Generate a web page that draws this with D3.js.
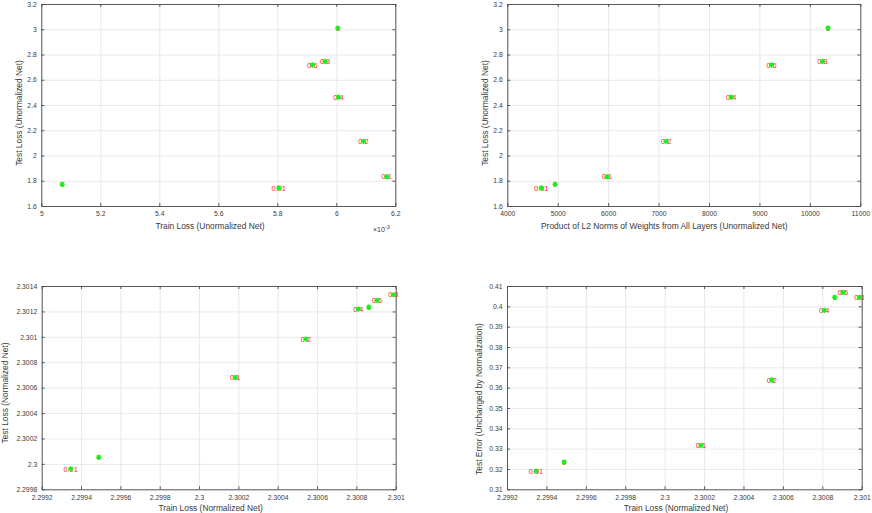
<!DOCTYPE html>
<html><head><meta charset="utf-8">
<script src="https://cdn.jsdelivr.net/npm/d3@7"></script>
<style>
body{margin:0;background:#fff;}
svg{display:block;font-family:"Liberation Sans",Arial,sans-serif;}
</style></head>
<body><svg id="c" width="872" height="513"></svg>
<script>
// regularization strengths (point labels)
const lambdas = ["0","0.01","0.1","0.2","0.4","0.6","0.8","1"];
// unnormalized net
const trainLossUnnorm = [5.071, 5.805, 6.171, 6.092, 6.007, 5.919, 5.962, 6.005]; // x1e-3
const testLossUnnorm  = [1.772, 1.743, 1.832, 2.113, 2.462, 2.718, 2.746, 3.010];
const l2NormProduct   = [4949, 4672, 5977, 7150, 8441, 9240, 10249, 10360];
// normalized net
const trainLossNorm = [2.29949, 2.299347, 2.300184, 2.300544, 2.30081, 2.300905, 2.300988, 2.300863];
const testLossNorm  = [2.300052, 2.29996, 2.300681, 2.300983, 2.301219, 2.301287, 2.301331, 2.301234];
const testError     = [0.3234, 0.3190, 0.3316, 0.3638, 0.3980, 0.4069, 0.4044, 0.4044];

// tick values and labels
const xTicks1 = [5, 5.2, 5.4, 5.6, 5.8, 6, 6.2];
const xTickLabels1 = ["5","5.2","5.4","5.6","5.8","6","6.2"];
const yTicksLoss = [1.6, 1.8, 2, 2.2, 2.4, 2.6, 2.8, 3, 3.2];
const yTickLabelsLoss = ["1.6","1.8","2","2.2","2.4","2.6","2.8","3","3.2"];
const xTicks2 = [4000,5000,6000,7000,8000,9000,10000,11000];
const xTickLabels2 = ["4000","5000","6000","7000","8000","9000","10000","11000"];
const xTicksNorm = [2.2992,2.2994,2.2996,2.2998,2.3,2.3002,2.3004,2.3006,2.3008,2.301];
const xTickLabelsNorm = ["2.2992","2.2994","2.2996","2.2998","2.3","2.3002","2.3004","2.3006","2.3008","2.301"];
const yTicksNorm = [2.2998,2.3,2.3002,2.3004,2.3006,2.3008,2.301,2.3012,2.3014];
const yTickLabelsNorm = ["2.2998","2.3","2.3002","2.3004","2.3006","2.3008","2.301","2.3012","2.3014"];
const yTicksErr = [0.31,0.32,0.33,0.34,0.35,0.36,0.37,0.38,0.39,0.4,0.41];
const yTickLabelsErr = ["0.31","0.32","0.33","0.34","0.35","0.36","0.37","0.38","0.39","0.4","0.41"];

const svg = d3.select("#c");
const AX = "#4a4a4a", TXT = "#3a3a3a", GRID = "#e3e3e3";

function panel(cfg){
  const g = svg.append("g").attr("transform",`translate(${cfg.left},${cfg.top})`);
  const w = cfg.right - cfg.left, h = cfg.bottom - cfg.top;
  const x = d3.scaleLinear().domain([cfg.xTicks[0], cfg.xTicks[cfg.xTicks.length-1]]).range([0,w]);
  const y = d3.scaleLinear().domain([cfg.yTicks[0], cfg.yTicks[cfg.yTicks.length-1]]).range([h,0]);
  // grid
  g.append("g").attr("transform",`translate(0,${h})`)
    .call(d3.axisBottom(x).tickValues(cfg.xTicks).tickSize(-h).tickFormat(""))
    .call(s=>{s.select(".domain").remove(); s.selectAll("line").attr("stroke",GRID).attr("stroke-width",0.8);});
  g.append("g")
    .call(d3.axisLeft(y).tickValues(cfg.yTicks).tickSize(-w).tickFormat(""))
    .call(s=>{s.select(".domain").remove(); s.selectAll("line").attr("stroke",GRID).attr("stroke-width",0.8);});
  const style = (s, labels)=>{
    s.select(".domain").attr("stroke",AX).attr("stroke-width",0.9);
    s.selectAll(".tick line").attr("stroke",AX).attr("stroke-width",0.9);
    s.selectAll("text").attr("fill",TXT).attr("font-size",6.8).attr("font-family","'Liberation Sans',Arial,sans-serif");
  };
  // axes (inward ticks, box)
  g.append("g").attr("transform",`translate(0,${h})`)
    .call(d3.axisBottom(x).tickValues(cfg.xTicks).tickSize(-3).tickSizeOuter(0).tickPadding(5.5)
      .tickFormat((d,i)=>cfg.xLabels[i])).call(style);
  g.append("g")
    .call(d3.axisLeft(y).tickValues(cfg.yTicks).tickSize(-3).tickSizeOuter(0).tickPadding(4.5)
      .tickFormat((d,i)=>cfg.yLabels[i])).call(style);
  g.append("g")
    .call(d3.axisTop(x).tickValues(cfg.xTicks).tickSize(-3).tickSizeOuter(0).tickFormat("")).call(style);
  g.append("g").attr("transform",`translate(${w},0)`)
    .call(d3.axisRight(y).tickValues(cfg.yTicks).tickSize(-3).tickSizeOuter(0).tickFormat("")).call(style);
  // red labels
  g.selectAll("text.lab").data(cfg.xs).enter().append("text").attr("class","lab")
    .attr("x",(d)=>x(d)).attr("y",(d,i)=>y(cfg.ys[i]))
    .attr("dy","0.36em").attr("text-anchor","middle")
    .attr("font-size",7.4).attr("fill","#ff2020")
    .text((d,i)=>lambdas[i]);
  // green asterisk markers
  const r = 2.6, r2 = r*0.72;
  const star = `M${-r},0L${r},0M0,${-r}L0,${r}M${-r2},${-r2}L${r2},${r2}M${-r2},${r2}L${r2},${-r2}`;
  g.selectAll("path.mk").data(cfg.xs).enter().append("path").attr("class","mk")
    .attr("transform",(d,i)=>`translate(${x(d)},${y(cfg.ys[i])})`)
    .attr("d",star).attr("stroke","#19f019").attr("stroke-width",1.3).attr("fill","none");
  // titles
  svg.append("text").attr("x",cfg.xtX).attr("y",cfg.xtY).attr("text-anchor","middle")
    .attr("font-size",8.4).attr("fill",TXT).text(cfg.xTitle);
  svg.append("text").attr("transform",`translate(${cfg.ytX},${cfg.ytY}) rotate(-90)`)
    .attr("text-anchor","middle").attr("dy","0.35em")
    .attr("font-size",8.4).attr("fill",TXT).text(cfg.yTitle);
}

panel({left:41.3,right:395.3,top:4,bottom:206,
  xTicks:xTicks1,xLabels:xTickLabels1,yTicks:yTicksLoss,yLabels:yTickLabelsLoss,
  xs:trainLossUnnorm,ys:testLossUnnorm,
  xTitle:"Train Loss (Unormalized Net)",xtX:210,xtY:229,
  yTitle:"Test Loss (Unormalized Net)",ytX:19,ytY:113});
panel({left:507.3,right:860.3,top:4,bottom:206,
  xTicks:xTicks2,xLabels:xTickLabels2,yTicks:yTicksLoss,yLabels:yTickLabelsLoss,
  xs:l2NormProduct,ys:testLossUnnorm,
  xTitle:"Product of L2 Norms of Weights from All Layers (Unormalized Net)",xtX:664.3,xtY:229,
  yTitle:"Test Loss (Unormalized Net)",ytX:485,ytY:113});
panel({left:41.7,right:395.7,top:286,bottom:489.3,
  xTicks:xTicksNorm,xLabels:xTickLabelsNorm,yTicks:yTicksNorm,yLabels:yTickLabelsNorm,
  xs:trainLossNorm,ys:testLossNorm,
  xTitle:"Train Loss (Normalized Net)",xtX:210.7,xtY:511,
  yTitle:"Test Loss (Normalized Net)",ytX:5,ytY:393});
panel({left:507,right:861.7,top:286,bottom:489.3,
  xTicks:xTicksNorm,xLabels:xTickLabelsNorm,yTicks:yTicksErr,yLabels:yTickLabelsErr,
  xs:trainLossNorm,ys:testError,
  xTitle:"Train Loss (Normalized Net)",xtX:676,xtY:511,
  yTitle:"Test Error (Unchanged by Normalization)",ytX:479,ytY:399});

// x10^-3 exponent label
const ex = svg.append("text").attr("x",373).attr("y",232).attr("font-size",7).attr("fill",TXT);
ex.append("tspan").text("×10");
ex.append("tspan").attr("dy",-3.5).attr("font-size",5.5).text("-3");
</script></body></html>
